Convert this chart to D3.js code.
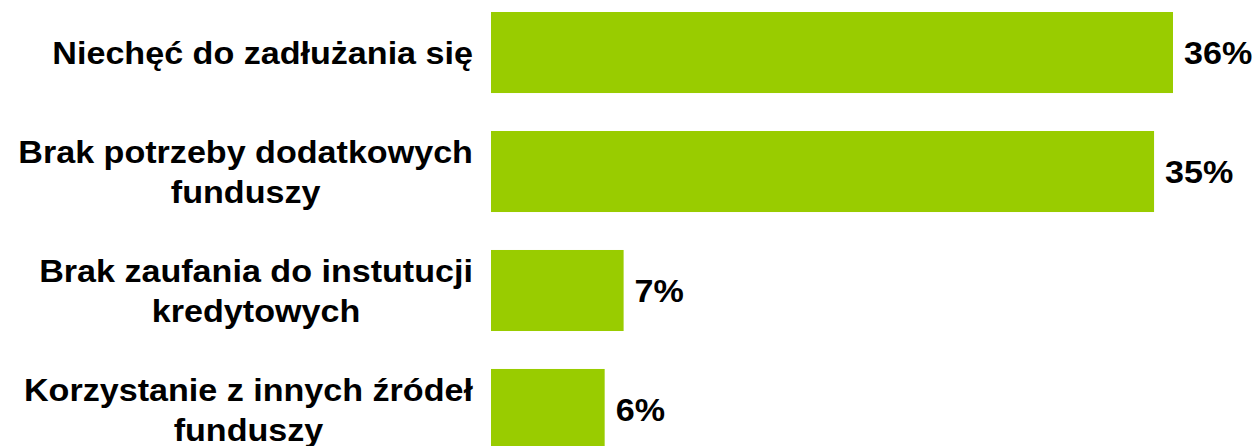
<!DOCTYPE html>
<html>
<head>
<meta charset="utf-8">
<script src="https://cdn.jsdelivr.net/npm/d3@7"></script>
<style>
  body { margin: 0; background: #fff; }
  text { font-family: "Liberation Sans", Arial, sans-serif; font-weight: bold; fill: #000; }
</style>
</head>
<body>
<div id="chart"></div>
<script>
"use strict"

// category labels, one entry per line of text
let categories = [
    ["Niechęć do zadłużania się"],
    ["Brak potrzeby dodatkowych", "funduszy"],
    ["Brak zaufania do instutucji", "kredytowych"],
    ["Korzystanie z innych źródeł", "funduszy"]
];
let values = [36, 35, 7, 6];
let valueLabels = ["36%", "35%", "7%", "6%"];

let W = 1256, H = 446;
let stretch = 1.1; // the reference text is a bit wider than plain Arial

let svg = d3.select("#chart")
    .append("svg")
    .attr("width", W)
    .attr("height", H);

let x = d3.scaleLinear()
    .domain([0, 36])
    .range([491, 1173]);

let y = d3.scaleBand()
    .domain(d3.range(values.length))
    .range([12, 450])
    .paddingInner(0.319)
    .paddingOuter(0);

// bars
svg.selectAll("rect.bar")
    .data(values)
    .enter().append("rect")
    .attr("class", "bar")
    .attr("x", x(0))
    .attr("y", (d, i) => y(i))
    .attr("width", d => x(d) - x(0))
    .attr("height", y.bandwidth())
    .attr("fill", "#99cc00");

// value labels right of each bar
svg.selectAll("text.val")
    .data(values)
    .enter().append("text")
    .attr("class", "val")
    .attr("transform", d => "translate(" + (x(d) + 11) + ",0) scale(" + stretch + ",1)")
    .attr("x", 0)
    .attr("y", (d, i) => y(i) + y.bandwidth() / 2)
    .attr("dy", "0.38em")
    .style("font-size", "31px")
    .text((d, i) => valueLabels[i]);

// category labels: lines centred on each other, block right-aligned next to the axis
let lineH = 40;
let labelRight = 473;
categories.forEach(function (lines, i) {
    let cy = y(i) + y.bandwidth() / 2;
    let t = svg.append("text")
        .attr("text-anchor", "middle")
        .style("font-size", "31px");
    lines.forEach(function (ln, j) {
        t.append("tspan")
            .attr("x", 0)
            .attr("y", cy + (j - (lines.length - 1) / 2) * lineH)
            .attr("dy", "0.36em")
            .text(ln);
    });
    let maxW = 0;
    t.selectAll("tspan").each(function () {
        maxW = Math.max(maxW, this.getComputedTextLength());
    });
    t.attr("transform", "translate(" + (labelRight - maxW * stretch / 2) + ",0) scale(" + stretch + ",1)");
});
</script>
</body>
</html>
